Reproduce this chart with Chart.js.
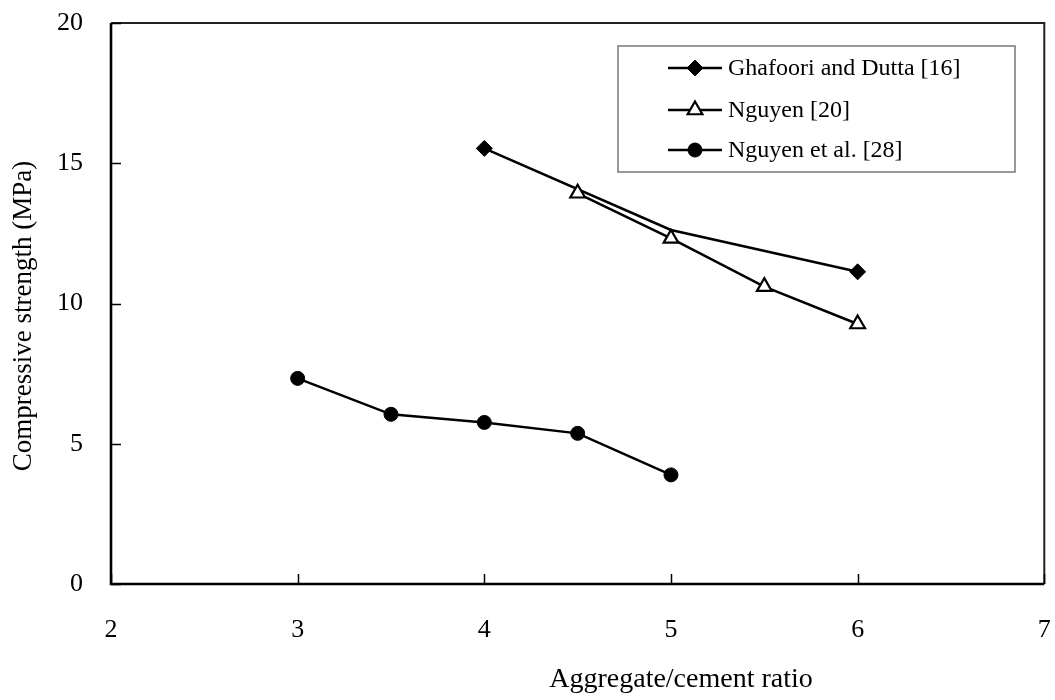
<!DOCTYPE html>
<html>
<head>
<meta charset="utf-8">
<script src="https://cdn.jsdelivr.net/npm/chart.js@4/dist/chart.umd.min.js"></script>
<style>
  html, body { margin: 0; padding: 0; background: #fff; }
  #wrap { width: 1055px; height: 700px; }
</style>
</head>
<body>
<div id="wrap"><canvas id="c" width="1055" height="700"></canvas></div>
<script>
// Series data: compressive strength against aggregate/cement ratio
const seriesNames = ['Ghafoori and Dutta [16]', 'Nguyen [20]', 'Nguyen et al. [28]'];
const ghafooriX = [4, 5, 6];
const ghafooriY = [15.53, 12.62, 11.13];
const nguyenX = [4.5, 5, 5.5, 6];
const nguyenY = [13.93, 12.32, 10.6, 9.27];
const nguyenEtAlX = [3, 3.5, 4, 4.5, 5];
const nguyenEtAlY = [7.33, 6.05, 5.76, 5.37, 3.89];
const xTicks = [2, 3, 4, 5, 6, 7];
const yTicks = [0, 5, 10, 15, 20];
const xTitle = 'Aggregate/cement ratio';
const yTitle = 'Compressive strength (MPa)';

const SERIF = '"Liberation Serif", "Times New Roman", serif';

function toPoints(xs, ys) {
  return xs.map((x, i) => ({ x: x, y: ys[i] }));
}

const datasets = [
  {
    label: seriesNames[0],
    data: toPoints(ghafooriX, ghafooriY),
    showLine: true,
    borderColor: '#000',
    borderWidth: 2.5,
    pointStyle: 'rectRot',
    // the middle point sits under the triangle marker and carries no marker of its own
    pointRadius: ctx => (ctx.dataIndex === 1 ? 0 : 8),
    pointBackgroundColor: '#000',
    pointBorderColor: '#000',
    pointBorderWidth: 1,
    order: 2
  },
  {
    label: seriesNames[1],
    data: toPoints(nguyenX, nguyenY),
    showLine: true,
    borderColor: '#000',
    borderWidth: 2.5,
    pointStyle: 'triangle',
    pointRadius: 8.5,
    pointBackgroundColor: '#fff',
    pointBorderColor: '#000',
    pointBorderWidth: 2.2,
    order: 1
  },
  {
    label: seriesNames[2],
    data: toPoints(nguyenEtAlX, nguyenEtAlY),
    showLine: true,
    borderColor: '#000',
    borderWidth: 2.5,
    pointStyle: 'circle',
    pointRadius: 7,
    pointBackgroundColor: '#000',
    pointBorderColor: '#000',
    pointBorderWidth: 1,
    order: 3
  }
];

// Frame, inward tick marks, axis titles and boxed legend
const framePlugin = {
  id: 'frame',
  afterDraw(chart) {
    const ctx = chart.ctx;
    const a = chart.chartArea;
    const xs = chart.scales.x;
    const ys = chart.scales.y;
    ctx.save();

    // top and right edges of the box
    ctx.strokeStyle = '#222';
    ctx.lineWidth = 2;
    ctx.beginPath();
    ctx.moveTo(a.left, a.top);
    ctx.lineTo(a.right, a.top);
    ctx.lineTo(a.right, a.bottom);
    ctx.stroke();

    // left and bottom axes
    ctx.strokeStyle = '#000';
    ctx.lineWidth = 2.6;
    ctx.beginPath();
    ctx.moveTo(a.left, a.top);
    ctx.lineTo(a.left, a.bottom);
    ctx.lineTo(a.right, a.bottom);
    ctx.stroke();

    // tick marks pointing into the plot
    ctx.lineWidth = 1.5;
    ctx.beginPath();
    xTicks.forEach(v => {
      const px = Math.round(xs.getPixelForValue(v)) + 0.5;
      ctx.moveTo(px, a.bottom);
      ctx.lineTo(px, a.bottom - 10);
    });
    yTicks.forEach(v => {
      const py = Math.round(ys.getPixelForValue(v)) + 0.5;
      ctx.moveTo(a.left, py);
      ctx.lineTo(a.left + 10, py);
    });
    ctx.stroke();

    // axis titles
    ctx.fillStyle = '#000';
    ctx.textAlign = 'center';
    ctx.textBaseline = 'middle';
    ctx.font = '28px ' + SERIF;
    ctx.fillText(xTitle, 681, 680);
    ctx.save();
    ctx.font = '27px ' + SERIF;
    ctx.translate(24, 316);
    ctx.rotate(-Math.PI / 2);
    ctx.fillText(yTitle, 0, 0);
    ctx.restore();

    // legend box
    const box = { left: 618, top: 46, right: 1015, bottom: 172 };
    ctx.strokeStyle = '#777';
    ctx.lineWidth = 1.5;
    ctx.strokeRect(box.left, box.top, box.right - box.left, box.bottom - box.top);

    const rows = [68, 110, 150];
    const lineL = 668, lineR = 722, mark = 695, textX = 728;
    ctx.font = '24px ' + SERIF;
    ctx.textAlign = 'left';
    chart.data.datasets.forEach((ds, i) => {
      const y = rows[i];
      ctx.strokeStyle = ds.borderColor;
      ctx.lineWidth = ds.borderWidth;
      ctx.beginPath();
      ctx.moveTo(lineL, y);
      ctx.lineTo(lineR, y);
      ctx.stroke();
      ctx.fillStyle = ds.pointBackgroundColor;
      ctx.strokeStyle = ds.pointBorderColor;
      ctx.lineWidth = ds.pointBorderWidth;
      const r = typeof ds.pointRadius === 'function' ? 8 : ds.pointRadius;
      Chart.helpers.drawPoint(ctx, { pointStyle: ds.pointStyle, radius: r, rotation: 0, borderWidth: ds.pointBorderWidth }, mark, y);
      ctx.fillStyle = '#000';
      ctx.textBaseline = 'middle';
      ctx.fillText(ds.label, textX, y + 1);
    });

    ctx.restore();
  }
};

new Chart(document.getElementById('c'), {
  type: 'scatter',
  data: { datasets: datasets },
  options: {
    responsive: false,
    devicePixelRatio: 1,
    animation: false,
    layout: { padding: { top: 23, right: 9, left: 0, bottom: 0 } },
    plugins: {
      legend: { display: false },
      tooltip: { enabled: false }
    },
    scales: {
      x: {
        type: 'linear',
        min: 2,
        max: 7,
        afterBuildTicks: scale => { scale.ticks = xTicks.map(v => ({ value: v })); },
        afterFit: scale => { scale.height = 116; },
        grid: { display: false, drawTicks: true, tickLength: 31 },
        border: { display: false },
        ticks: {
          color: '#000',
          font: { family: SERIF, size: 26 },
          padding: 0,
          maxRotation: 0,
          autoSkip: false
        }
      },
      y: {
        type: 'linear',
        min: 0,
        max: 20,
        afterBuildTicks: scale => { scale.ticks = yTicks.map(v => ({ value: v })); },
        afterFit: scale => { scale.width = 111; },
        grid: { display: false, drawTicks: true, tickLength: 28 },
        border: { display: false },
        ticks: {
          color: '#000',
          font: { family: SERIF, size: 26 },
          padding: 0,
          autoSkip: false
        }
      }
    }
  },
  plugins: [framePlugin]
});
</script>
</body>
</html>
